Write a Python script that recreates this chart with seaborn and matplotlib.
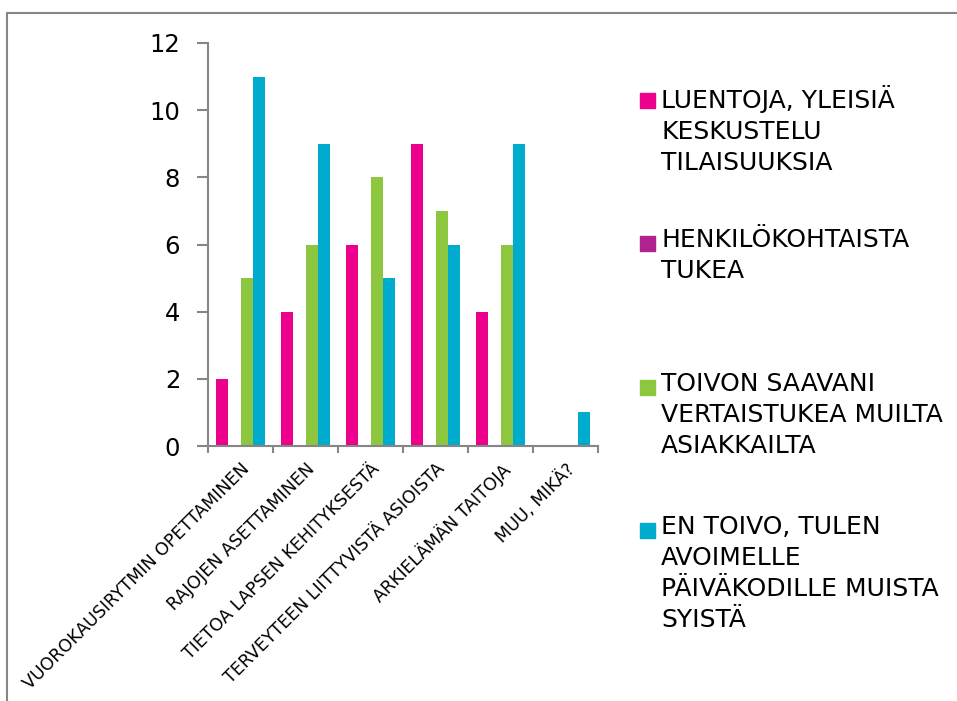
import matplotlib
matplotlib.use("Agg")
import matplotlib.pyplot as plt
import seaborn as sns
import pandas as pd
from matplotlib.patches import Rectangle
from matplotlib.lines import Line2D

categories = [
    "VUOROKAUSIRYTMIN OPETTAMINEN",
    "RAJOJEN ASETTAMINEN",
    "TIETOA LAPSEN KEHITYKSESTÄ",
    "TERVEYTEEN LIITTYVISTÄ ASIOISTA",
    "ARKIELÄMÄN TAITOJA",
    "MUU, MIKÄ?",
]
series_names = [
    "LUENTOJA, YLEISIÄ\nKESKUSTELU\nTILAISUUKSIA",
    "HENKILÖKOHTAISTA\nTUKEA",
    "TOIVON SAAVANI\nVERTAISTUKEA MUILTA\nASIAKKAILTA",
    "EN TOIVO, TULEN\nAVOIMELLE\nPÄIVÄKODILLE MUISTA\nSYISTÄ",
]
luentoja = [2, 4, 6, 9, 4, 0]
henkilokohtaista = [0, 0, 0, 0, 0, 0]
vertaistuki = [5, 6, 8, 7, 6, 0]
en_toivo = [11, 9, 5, 6, 9, 1]
colors = ["#EC008C", "#B0228F", "#8DC63F", "#00ACCD"]

values = [luentoja, henkilokohtaista, vertaistuki, en_toivo]
rows = []
for s, vals in zip(series_names, values):
    for c, v in zip(categories, vals):
        rows.append({"cat": c, "series": s, "value": v})
df = pd.DataFrame(rows)

sns.set_style("white")
plt.rcParams["font.family"] = ["DejaVu Sans"]
plt.rcParams["text.color"] = "black"
plt.rcParams["xtick.color"] = "black"
plt.rcParams["ytick.color"] = "black"

fig = plt.figure(figsize=(9.57, 7.01), dpi=100)
ax = fig.add_axes([208 / 957, 1 - 446 / 701, 390 / 957, 403 / 701])

sns.barplot(data=df, x="cat", y="value", hue="series", order=categories,
            hue_order=series_names, palette=colors, width=0.74,
            linewidth=0, saturation=1, ax=ax, legend=False)

grey = "#868686"
ax.set_xlim(-0.5, len(categories) - 0.5)
ax.set_ylim(0, 12)
ax.set_yticks(range(0, 13, 2))
ax.set_xlabel("")
ax.set_ylabel("")
for side in ["top", "right"]:
    ax.spines[side].set_visible(False)
for side in ["left", "bottom"]:
    ax.spines[side].set_color(grey)
    ax.spines[side].set_linewidth(1.5)

ax.tick_params(axis="y", which="major", direction="out", length=8, width=1.5,
               color=grey, labelcolor="black", labelsize=17.5, pad=12, left=True)
ax.set_xticks(range(len(categories)))
ax.set_xticklabels(categories, rotation=45, ha="right", rotation_mode="anchor",
                   fontsize=12.5, color="black")
ax.tick_params(axis="x", which="major", length=0, pad=10)
ax.set_xticks([i - 0.5 for i in range(len(categories) + 1)], minor=True)
ax.tick_params(axis="x", which="minor", direction="out", length=5, width=1.5,
               color=grey, bottom=True)

# legend drawn manually to mimic spacing
legend_tops = [100, 243, 387, 530]
for name, col, ytop in zip(series_names, colors, legend_tops):
    fig.patches.append(Rectangle((640 / 957, 1 - (ytop + 8) / 701), 15 / 957, 15 / 701,
                                 transform=fig.transFigure, color=col))
    fig.text(661 / 957, 1 - (ytop - 15) / 701, name, fontsize=18, va="top",
             ha="left", linespacing=1.36, color="black")

# outer frame
fig.add_artist(Line2D([7 / 957, 1], [1 - 13 / 701, 1 - 13 / 701], color=grey,
                      lw=1.5, transform=fig.transFigure))
fig.add_artist(Line2D([7 / 957, 7 / 957], [1 - 13 / 701, 0], color=grey,
                      lw=1.5, transform=fig.transFigure))

fig.savefig("out.png", dpi=100)
